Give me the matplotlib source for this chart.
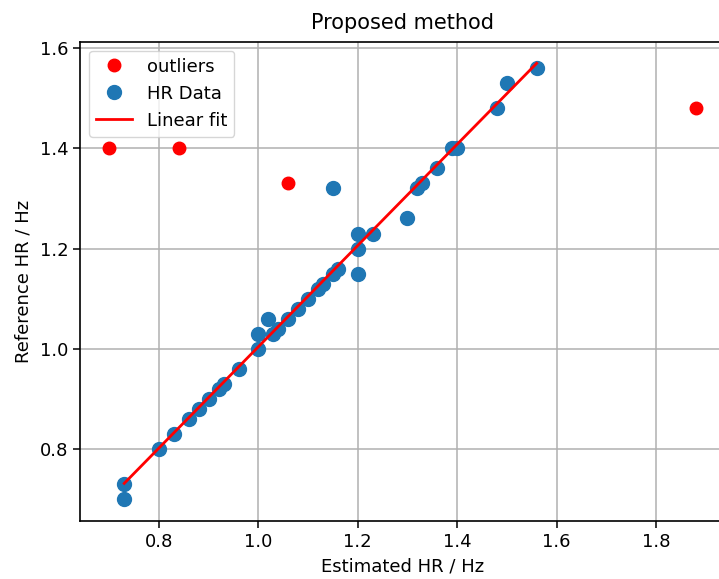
import numpy as np
import matplotlib
matplotlib.use("Agg")
import matplotlib.pyplot as plt

# HR data (estimated vs reference), Hz
est_hr = [0.73, 0.73, 0.80, 0.83, 0.86, 0.88, 0.90, 0.92, 0.93, 0.96,
          1.00, 1.00, 1.02, 1.03, 1.04, 1.06, 1.08, 1.10, 1.12, 1.13,
          1.15, 1.16, 1.15, 1.20, 1.20, 1.20, 1.23, 1.30, 1.32, 1.33,
          1.36, 1.39, 1.40, 1.48, 1.50, 1.56]
ref_hr = [0.73, 0.70, 0.80, 0.83, 0.86, 0.88, 0.90, 0.92, 0.93, 0.96,
          1.00, 1.03, 1.06, 1.03, 1.04, 1.06, 1.08, 1.10, 1.12, 1.13,
          1.15, 1.16, 1.32, 1.20, 1.23, 1.15, 1.23, 1.26, 1.32, 1.33,
          1.36, 1.40, 1.40, 1.48, 1.53, 1.56]

# outliers
out_est = [0.70, 0.84, 1.06, 1.88]
out_ref = [1.40, 1.40, 1.33, 1.48]

title = "Proposed method"
xlabel = "Estimated HR / Hz"
ylabel = "Reference HR / Hz"

W, H = 719, 579
fig = plt.figure(figsize=(W / 100, H / 100), dpi=100)
left, right, top, bottom = 80, 725, 41.5, 521
ax = fig.add_axes([left / W, (H - bottom) / H, (right - left) / W, (bottom - top) / H])

ax.plot(out_est, out_ref, 'o', color='red', markersize=9, label='outliers', zorder=3)
ax.plot(est_hr, ref_hr, 'o', color='#1f77b4', markersize=10, label='HR Data', zorder=3)

coef = np.polyfit(est_hr, ref_hr, 1)
xf = np.array([min(est_hr), max(est_hr)])
ax.plot(xf, np.polyval(coef, xf), '-', color='red', linewidth=2, label='Linear fit', zorder=4)

ax.set_xticks([0.8, 1.0, 1.2, 1.4, 1.6, 1.8])
ax.set_yticks([0.8, 1.0, 1.2, 1.4, 1.6])
ax.grid(True, color='#b0b0b0', linewidth=1.1)
ax.set_axisbelow(True)

ax.tick_params(labelsize=13, length=5, width=1.1)
for s in ax.spines.values():
    s.set_linewidth(1.2)
ax.spines['right'].set_visible(False)

ax.set_title(title, fontsize=15, pad=9)
ax.set_xlabel(xlabel, fontsize=13, labelpad=5)
ax.set_ylabel(ylabel, fontsize=13, labelpad=5)

ax.legend(loc='upper left', fontsize=13, framealpha=0.8, borderpad=0.4)

fig.savefig("out.png", dpi=100)
